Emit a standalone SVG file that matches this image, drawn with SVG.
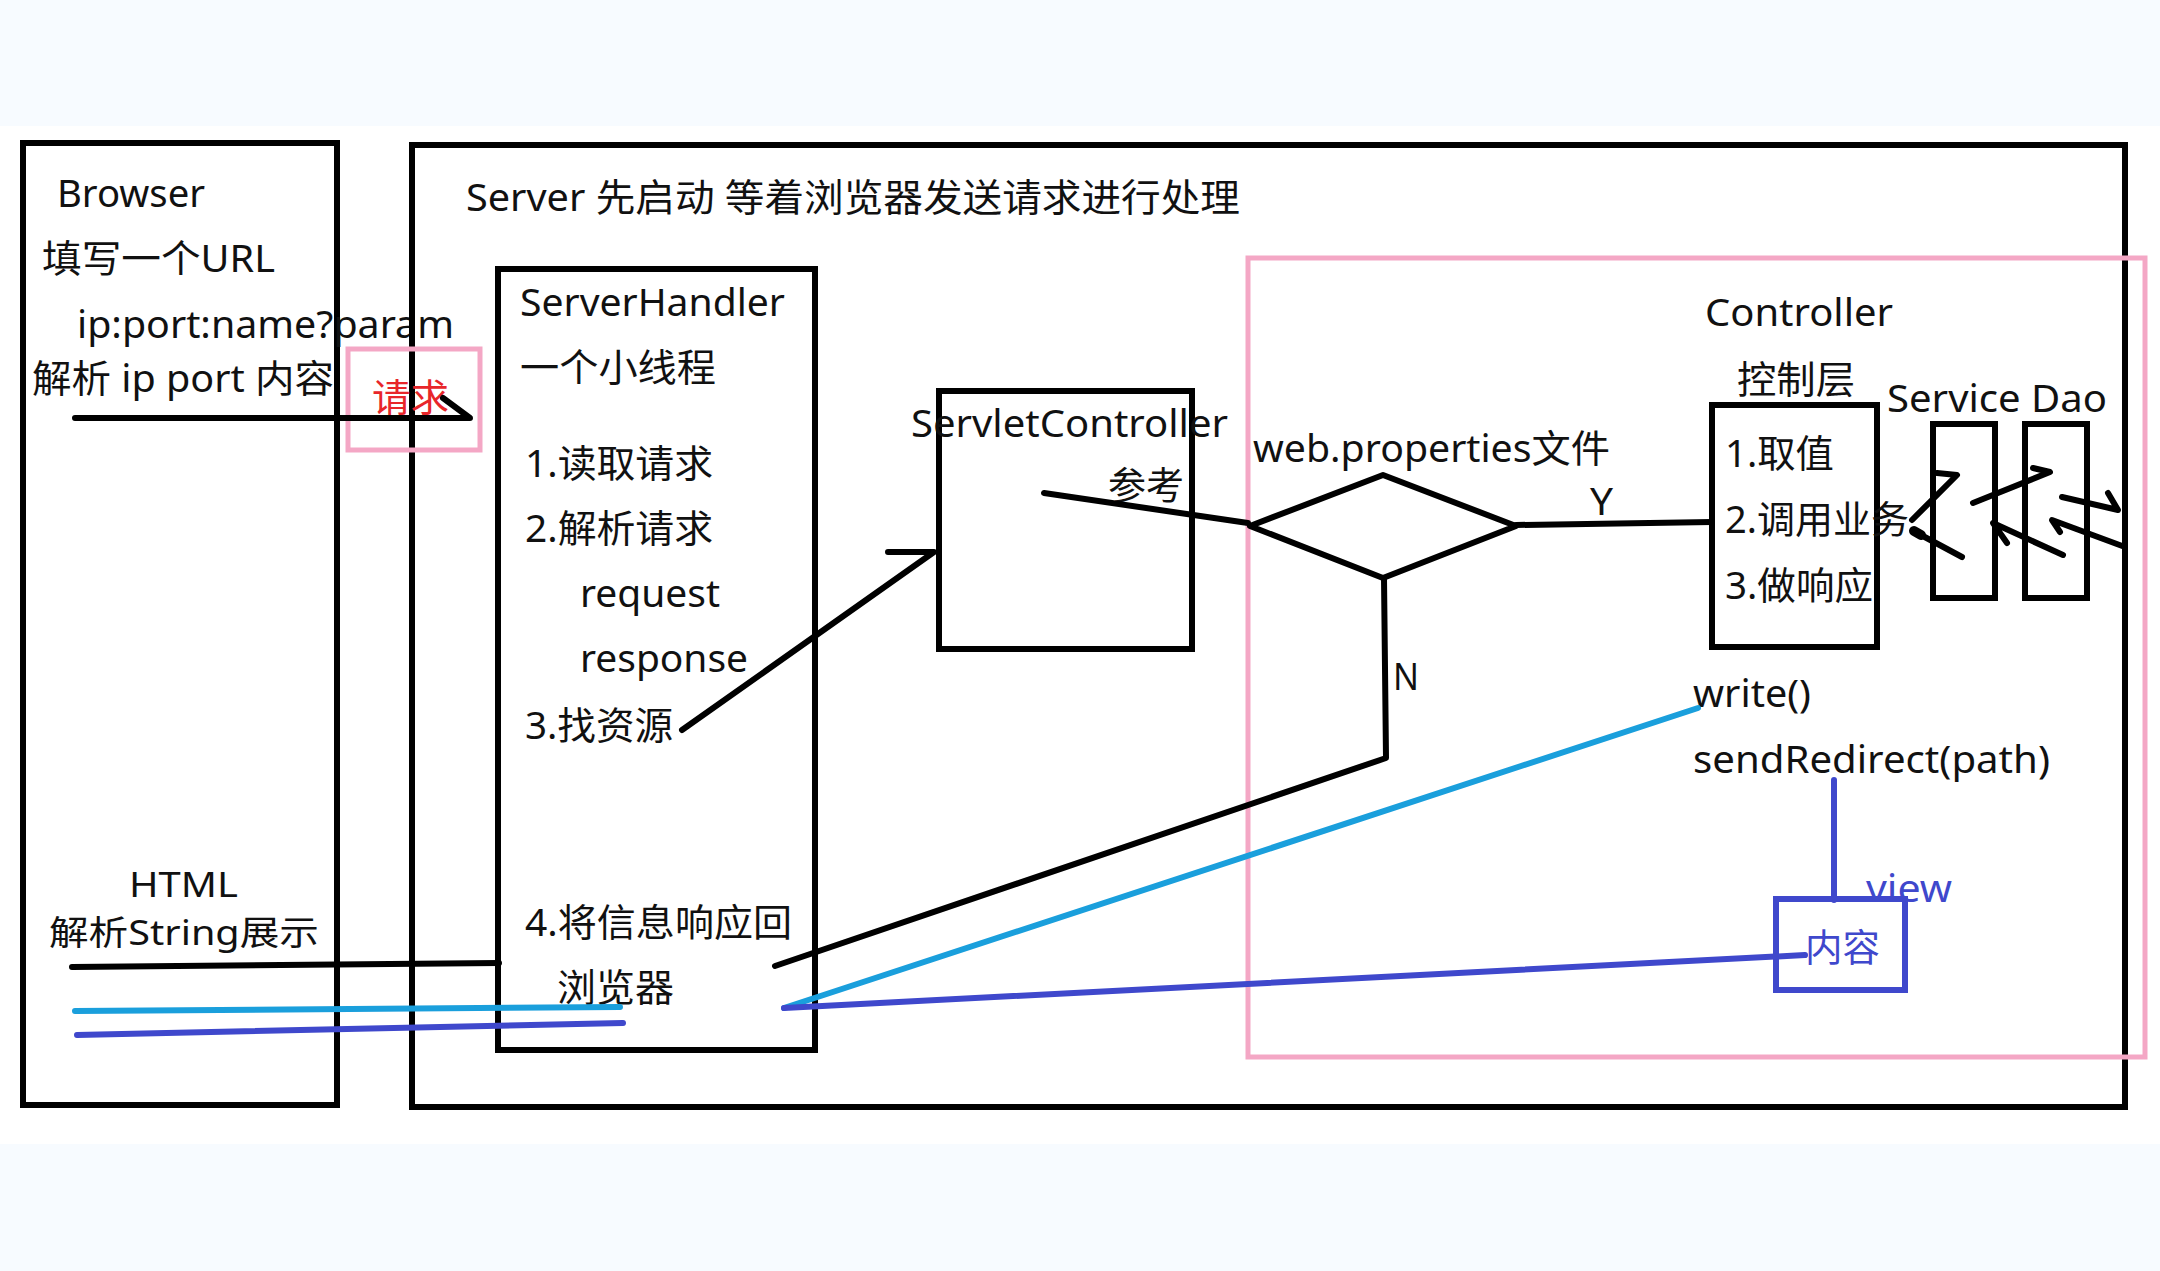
<svg xmlns="http://www.w3.org/2000/svg" width="2160" height="1271" viewBox="0 0 2160 1271">
<style>
text{font-family:"Noto Sans","Noto Sans CJK SC",sans-serif;font-size:38px;fill:#111}
.box{fill:none;stroke:#000;stroke-width:6}
.pink{fill:none;stroke:#f4a7c5;stroke-width:5}
.ln{fill:none;stroke:#000;stroke-width:6;stroke-linecap:round;stroke-linejoin:round}
.cy{fill:none;stroke:#1a9fdc;stroke-width:6;stroke-linecap:round}
.bl{fill:none;stroke:#3f48cc;stroke-width:6;stroke-linecap:round}
.blt{fill:#3f48cc}
.sm{font-size:34px}
</style>
<rect x="0" y="0" width="2160" height="1271" fill="#ffffff"/>
<rect x="0" y="0" width="2160" height="126" fill="#f7fbff"/>
<rect x="0" y="1144" width="2160" height="127" fill="#f7fbff"/>

<g id="browser">
<rect class="box" x="23" y="143" width="314" height="962"/>
<text x="57" y="207" textLength="148" lengthAdjust="spacingAndGlyphs">Browser</text>
<text x="42" y="272" textLength="233" lengthAdjust="spacingAndGlyphs">填写一个URL</text>
<text x="77" y="338" textLength="377" lengthAdjust="spacingAndGlyphs">ip:port:name?param</text>
<text x="32" y="392" textLength="302" lengthAdjust="spacingAndGlyphs">解析 ip port 内容</text>
<text class="sm" x="129" y="897" textLength="109" lengthAdjust="spacingAndGlyphs">HTML</text>
<text class="sm" x="49" y="945" textLength="270" lengthAdjust="spacingAndGlyphs">解析String展示</text>
</g>

<g id="server">
<rect class="box" x="412" y="145" width="1713" height="962"/>
<text x="466" y="211" textLength="774" lengthAdjust="spacingAndGlyphs">Server 先启动 等着浏览器发送请求进行处理</text>
</g>

<g id="request-label">
<rect class="pink" x="348" y="349" width="132" height="101"/>
<text x="372" y="411" textLength="77" lengthAdjust="spacingAndGlyphs" style="fill:#e8262a">请求</text>
</g>

<g id="server-handler">
<rect class="box" x="498" y="269" width="317" height="781"/>
<text x="520" y="316" textLength="265" lengthAdjust="spacingAndGlyphs">ServerHandler</text>
<text x="520" y="381" textLength="196" lengthAdjust="spacingAndGlyphs">一个小线程</text>
<text x="525" y="477" textLength="188" lengthAdjust="spacingAndGlyphs">1.读取请求</text>
<text x="525" y="542" textLength="188" lengthAdjust="spacingAndGlyphs">2.解析请求</text>
<text x="580" y="607" textLength="140" lengthAdjust="spacingAndGlyphs">request</text>
<text x="580" y="672" textLength="168" lengthAdjust="spacingAndGlyphs">response</text>
<text x="525" y="739" textLength="148" lengthAdjust="spacingAndGlyphs">3.找资源</text>
<text x="525" y="936" textLength="267" lengthAdjust="spacingAndGlyphs">4.将信息响应回</text>
<text x="557" y="1001" textLength="117" lengthAdjust="spacingAndGlyphs">浏览器</text>
</g>

<g id="servlet-controller">
<rect class="box" x="939" y="391" width="253" height="258"/>
<text x="911" y="437" textLength="317" lengthAdjust="spacingAndGlyphs">ServletController</text>
<text x="1108" y="499" textLength="76" lengthAdjust="spacingAndGlyphs">参考</text>
</g>

<g id="mvc-area">
<rect class="pink" x="1248" y="258" width="897" height="799"/>
</g>

<g id="web-properties">
<polygon class="ln" points="1250,526 1383,475 1516,526 1383,578"/>
<text x="1253" y="462" textLength="357" lengthAdjust="spacingAndGlyphs">web.properties文件</text>
</g>

<g id="controller">
<rect class="box" x="1712" y="405" width="165" height="242"/>
<text x="1705" y="326" textLength="188" lengthAdjust="spacingAndGlyphs">Controller</text>
<text x="1737" y="393" textLength="118" lengthAdjust="spacingAndGlyphs">控制层</text>
<text x="1725" y="467" textLength="109" lengthAdjust="spacingAndGlyphs">1.取值</text>
<text x="1725" y="533" textLength="184" lengthAdjust="spacingAndGlyphs">2.调用业务</text>
<text x="1725" y="599" textLength="148" lengthAdjust="spacingAndGlyphs">3.做响应</text>
<text x="1693" y="707" textLength="118" lengthAdjust="spacingAndGlyphs">write()</text>
<text x="1693" y="773" textLength="357" lengthAdjust="spacingAndGlyphs">sendRedirect(path)</text>
</g>

<g id="service-dao-label">
<text x="1887" y="412" textLength="220" lengthAdjust="spacingAndGlyphs">Service Dao</text>
</g>
<g id="service">
<rect class="box" x="1933" y="424" width="62" height="174"/>
</g>
<g id="dao">
<rect class="box" x="2025" y="424" width="62" height="174"/>
</g>

<g id="view">
<rect class="bl" x="1776" y="899" width="129" height="91" style="stroke-linecap:butt"/>
<text class="blt" x="1855" y="902" textLength="97" lengthAdjust="spacingAndGlyphs">.view</text>
<text class="blt" x="1805" y="961" textLength="75" lengthAdjust="spacingAndGlyphs">内容</text>
</g>

<g id="connectors">
<polyline class="ln" points="75,418 470,418 443,398"/>
<polyline class="ln" points="682,730 934,552 888,552"/>
<line class="ln" x1="1044" y1="493" x2="1248" y2="523"/>
<line class="ln" x1="1516" y1="525" x2="1712" y2="522"/>
<text x="1590" y="515" textLength="23" lengthAdjust="spacingAndGlyphs">Y</text>
<polyline class="ln" points="1384,578 1386,758 775,966"/>
<text x="1393" y="690" textLength="26" lengthAdjust="spacingAndGlyphs">N</text>
<line class="ln" x1="72" y1="967" x2="499" y2="963"/>
<line class="cy" x1="75" y1="1011" x2="620" y2="1007"/>
<line class="bl" x1="77" y1="1035" x2="623" y2="1023"/>
<line class="cy" x1="784" y1="1008" x2="1698" y2="708"/>
<line class="bl" x1="784" y1="1008" x2="1805" y2="955"/>
<line class="bl" x1="1834" y1="780" x2="1834" y2="900"/>
<polyline class="ln" points="1912,520 1957,475 1937,473"/>
<line class="ln" x1="1962" y1="557" x2="1921" y2="535"/>
<line class="ln" x1="1921" y1="535" x2="1914" y2="531" style="stroke-width:10"/>
<polyline class="ln" points="1973,503 2050,472 2033,468"/>
<polyline class="ln" points="2063,555 1993,523 2007,543"/>
<polyline class="ln" points="2062,497 2118,510 2108,493"/>
<polyline class="ln" points="2125,547 2052,520 2060,532"/>
</g>
</svg>
